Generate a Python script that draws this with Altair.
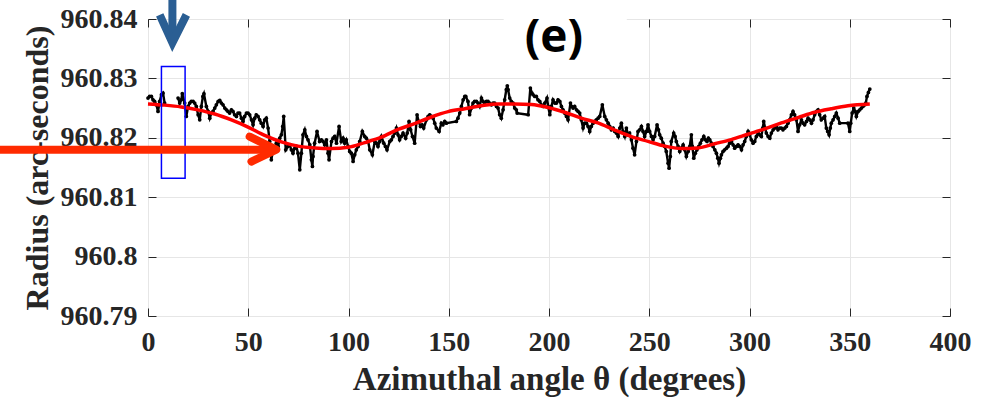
import altair as alt
import pandas as pd

# ---------------- data ----------------
theta_deg = [
    0.0, 0.8, 1.7, 2.5, 3.3, 4.2, 5.0, 5.8, 6.7, 7.5, 8.3,
    15.0, 15.8, 16.6, 17.1, 18.3, 19.1, 20.0, 20.8, 21.6, 22.5, 23.3, 24.1, 25.0, 25.8,
    26.6, 27.4, 27.9, 29.1, 30.0, 30.8, 31.6, 32.4, 33.3, 34.1, 35.0, 35.8, 36.6, 37.4,
    38.3, 39.1, 39.9, 40.7, 41.6, 42.4, 43.2, 44.1, 44.9, 45.7, 46.6, 47.4, 48.2, 49.1,
    49.9, 50.7, 51.6, 52.4, 53.2, 54.0, 54.9, 55.7, 56.5, 57.4, 58.2, 59.0, 59.9, 60.7,
    61.5, 62.4, 63.2, 64.0, 64.9, 65.7, 66.5, 67.2, 67.7, 68.7, 69.8, 70.7, 71.5, 72.3,
    73.2, 74.0, 74.8, 75.7, 76.5, 77.3, 78.2, 79.0, 79.8, 80.7, 81.5, 82.0, 82.3, 83.1,
    84.3, 85.6, 86.5, 87.3, 88.1, 89.0, 89.8, 90.3, 91.5, 92.3, 93.1, 94.0, 95.3, 96.4,
    97.3, 98.1, 98.9, 99.8, 100.6, 101.4, 102.3, 103.1, 103.9, 104.8, 105.6, 106.9, 108.1,
    108.9, 109.8, 110.6, 111.9, 113.1, 113.9, 114.7, 115.6, 116.4, 117.6, 118.4, 119.2,
    120.6, 121.4, 122.2, 123.1, 123.9, 124.7, 125.5, 126.3, 127.2, 128.5, 129.3, 130.2,
    131.0, 131.9, 133.0, 134.2, 135.0, 135.9, 136.7, 137.5, 138.9, 139.7, 140.5, 141.3,
    142.2, 143.0, 143.8, 145.2, 146.3, 147.1, 148.0, 148.8, 153.8, 154.6, 155.5, 156.3,
    157.2, 158.0, 158.5, 159.6, 160.4, 161.3, 162.1, 162.9, 163.8, 164.6, 165.4, 166.3,
    167.1, 167.9, 168.8, 169.6, 170.4, 171.3, 172.1, 172.9, 173.8, 174.6, 175.4, 176.2,
    177.1, 177.9, 178.7, 179.2, 179.6, 180.4, 181.2, 182.1, 182.9, 183.7, 184.1, 189.6,
    190.7, 191.5, 192.0, 192.9, 193.7, 194.5, 195.4, 196.2, 197.0, 197.9, 199.0, 199.6,
    200.4, 201.2, 202.0, 202.9, 203.7, 204.5, 205.4, 206.2, 207.0, 207.8, 208.7, 209.5,
    210.7, 211.2, 212.0, 212.8, 213.7, 214.5, 215.3, 216.1, 217.0, 217.8, 218.7, 219.5,
    220.3, 221.1, 222.0, 222.8, 223.6, 224.5, 225.3, 226.6, 227.8, 228.6, 229.5, 230.3,
    231.1, 232.0, 232.8, 233.6, 234.5, 235.3, 236.1, 236.9, 237.8, 238.6, 239.4, 240.2,
    241.1, 241.9, 242.7, 243.6, 244.4, 245.2, 246.1, 246.9, 247.7, 248.6, 249.4, 250.2,
    251.1, 251.9, 252.7, 253.9, 254.6, 255.2, 256.0, 256.9, 257.7, 258.5, 259.4, 259.9,
    260.5, 261.0, 262.2, 262.9, 263.5, 264.4, 265.2, 266.0, 266.9, 267.7, 268.5, 269.4,
    270.2, 271.0, 271.5, 272.2, 273.0, 273.8, 274.7, 275.5, 276.3, 277.2, 278.0, 278.8,
    279.5, 280.2, 281.0, 281.8, 282.7, 283.5, 284.2, 284.8, 285.5, 286.0, 286.8, 287.6,
    288.5, 289.3, 290.1, 291.0, 291.8, 292.6, 293.5, 294.3, 295.1, 296.0, 296.8, 297.6,
    298.4, 299.3, 300.1, 300.9, 301.8, 302.6, 303.4, 304.3, 305.1, 305.9, 306.6, 307.1,
    307.8, 308.4, 309.3, 310.1, 310.9, 311.8, 312.6, 313.4, 314.2, 315.1, 315.9, 316.7,
    317.6, 318.4, 319.2, 320.0, 320.9, 321.7, 322.5, 323.4, 324.2, 325.0, 325.9, 326.7,
    327.5, 328.4, 329.2, 330.0, 330.9, 331.7, 332.5, 333.4, 334.2, 335.0, 335.8, 336.7,
    337.5, 338.3, 339.0, 339.7, 340.3, 340.8, 341.7, 342.5, 343.3, 344.2, 345.0, 349.1,
    350.0, 350.5, 351.2, 352.0, 352.7, 353.3, 354.2, 355.0, 355.8, 356.6, 357.5, 358.0,
    358.6, 359.3, 360.0,
]

radius_arcsec = [
    960.82669, 960.82697, 960.82697, 960.82640, 960.82612, 960.82556, 960.82444, 960.82612, 960.82725, 960.82753, 960.82584,
    960.82669, 960.82584, 960.82640, 960.82742, 960.82584, 960.82360, 960.82528, 960.82584, 960.82612, 960.82612, 960.82584, 960.82528, 960.82388, 960.82303,
    960.82528, 960.82697, 960.82742, 960.82528, 960.82444, 960.82331, 960.82416, 960.82444, 960.82500, 960.82556, 960.82612, 960.82629, 960.82584, 960.82556,
    960.82500, 960.82472, 960.82444, 960.82416, 960.82472, 960.82444, 960.82388, 960.82360, 960.82416, 960.82416, 960.82331, 960.82275, 960.82360, 960.82416,
    960.82416, 960.82388, 960.82303, 960.82219, 960.82331, 960.82388, 960.82360, 960.82303, 960.82247, 960.82191, 960.82303, 960.82331, 960.82163, 960.81938,
    960.81629, 960.81798, 960.81798, 960.81910, 960.81854, 960.81994, 960.82051, 960.82191, 960.82360, 960.81798, 960.81854, 960.81882, 960.81798, 960.81742,
    960.81826, 960.81854, 960.81742, 960.81461, 960.81742, 960.82051, 960.82135, 960.82022, 960.81966, 960.81882, 960.81629, 960.81517, 960.81686, 960.81910,
    960.82107, 960.81938, 960.81966, 960.81938, 960.81882, 960.81966, 960.81742, 960.81629, 960.81938, 960.81994, 960.82022, 960.81910, 960.82191, 960.81938,
    960.81994, 960.81910, 960.81966, 960.81854, 960.81770, 960.81742, 960.81601, 960.81714, 960.81798, 960.81854, 960.81938, 960.82107, 960.82022,
    960.81994, 960.81938, 960.81798, 960.81714, 960.81938, 960.81910, 960.81854, 960.81938, 960.82022, 960.81910, 960.81854, 960.81798,
    960.81938, 960.81966, 960.82022, 960.82079, 960.82163, 960.82051, 960.81966, 960.82022, 960.82079, 960.81994, 960.82079, 960.82275,
    960.82135, 960.82022, 960.81910, 960.82388, 960.82275, 960.82191, 960.82219, 960.82163, 960.82303, 960.82360, 960.82388, 960.82360,
    960.82331, 960.82247, 960.82163, 960.82107, 960.82247, 960.82219, 960.82275, 960.82247, 960.82275, 960.82331, 960.82416, 960.82528,
    960.82640, 960.82697, 960.82697, 960.82612, 960.82388, 960.82500, 960.82584, 960.82612, 960.82612, 960.82584, 960.82528, 960.82669,
    960.82612, 960.82584, 960.82612, 960.82612, 960.82584, 960.82556, 960.82584, 960.82584, 960.82528, 960.82500, 960.82388, 960.82331,
    960.82472, 960.82640, 960.82809, 960.82876, 960.82809, 960.82669, 960.82612, 960.82584, 960.82500, 960.82472, 960.82416, 960.82388,
    960.82837, 960.82753, 960.82725, 960.82697, 960.82697, 960.82640, 960.82612, 960.82556, 960.82528, 960.82584, 960.82669, 960.82528,
    960.82388, 960.82528, 960.82640, 960.82584, 960.82584, 960.82640, 960.82612, 960.82528, 960.82472, 960.82416, 960.82360, 960.82303,
    960.82584, 960.82528, 960.82500, 960.82528, 960.82472, 960.82444, 960.82416, 960.82303, 960.82163, 960.82247, 960.82247, 960.82191,
    960.82107, 960.82191, 960.82247, 960.82275, 960.82303, 960.82331, 960.82360, 960.82556, 960.82360, 960.82303, 960.82247, 960.82191,
    960.82135, 960.82163, 960.82107, 960.82079, 960.82022, 960.82163, 960.82247, 960.82107, 960.82022, 960.82163, 960.82051, 960.82079,
    960.81966, 960.81826, 960.81714, 960.81938, 960.82107, 960.82135, 960.82191, 960.82107, 960.82022, 960.82107, 960.82219, 960.82107,
    960.82022, 960.81966, 960.82022, 960.82219, 960.82135, 960.82051, 960.81994, 960.81910, 960.81854, 960.81770, 960.81573, 960.81489,
    960.81686, 960.81938, 960.82079, 960.82022, 960.81938, 960.81854, 960.81770, 960.81826, 960.81882, 960.81798, 960.81686, 960.81770,
    960.81854, 960.82051, 960.81854, 960.81657, 960.81742, 960.81798, 960.81854, 960.81910, 960.81966, 960.82022, 960.81966, 960.81938,
    960.81994, 960.81966, 960.81910, 960.81854, 960.81798, 960.81742, 960.81657, 960.81573, 960.81657, 960.81714, 960.81770, 960.81798,
    960.81826, 960.81854, 960.81910, 960.81938, 960.81882, 960.81826, 960.81854, 960.81882, 960.81854, 960.81798, 960.81882, 960.81938,
    960.82022, 960.82107, 960.82051, 960.81966, 960.81910, 960.81938, 960.82022, 960.82079, 960.82051, 960.82022, 960.82163, 960.82275,
    960.82163, 960.82079, 960.82022, 960.81994, 960.82079, 960.82135, 960.82163, 960.82191, 960.82135, 960.82163, 960.82163, 960.82135,
    960.82163, 960.82191, 960.82247, 960.82303, 960.82388, 960.82444, 960.82388, 960.82303, 960.82107, 960.82219, 960.82303, 960.82247,
    960.82219, 960.82275, 960.82331, 960.82303, 960.82247, 960.82303, 960.82388, 960.82444, 960.82472, 960.82388, 960.82303, 960.82331,
    960.82360, 960.82163, 960.82107, 960.82051, 960.82163, 960.82247, 960.82303, 960.82360, 960.82416, 960.82331, 960.82247, 960.82247,
    960.82107, 960.82247, 960.82416, 960.82500, 960.82444, 960.82360, 960.82444, 960.82472, 960.82500, 960.82528, 960.82556, 960.82584,
    960.82697, 960.82764, 960.82820,
]

fit_theta = [0.0, 8.3, 16.6, 24.9, 33.3, 41.6, 49.9, 58.2, 66.5, 74.8, 83.2, 91.5, 99.8,
             108.1, 116.4, 124.7, 133.0, 141.3, 149.7, 158.0, 166.3, 174.6, 182.9, 191.2,
             199.5, 207.8, 216.1, 224.4, 232.8, 241.1, 249.4, 257.7, 266.0, 274.3, 282.6,
             290.9, 299.2, 307.6, 315.9, 324.2, 332.5, 340.8, 349.1, 360.0]
fit_radius = [960.8257, 960.8255, 960.8252, 960.8247, 960.8240, 960.8230, 960.8218, 960.8204,
              960.8193, 960.8186, 960.8183, 960.8182, 960.8184, 960.8192, 960.8201, 960.8214,
              960.8224, 960.8235, 960.8244, 960.8249, 960.8254, 960.8257, 960.8257, 960.8256,
              960.8251, 960.8243, 960.8233, 960.8225, 960.8213, 960.8202, 960.8194, 960.8186,
              960.8182, 960.8183, 960.8190, 960.8197, 960.8206, 960.8215, 960.8225, 960.8234,
              960.8243, 960.8249, 960.8254, 960.8257]

x_ticks = [0, 50, 100, 150, 200, 250, 300, 350, 400]
y_ticks = [960.79, 960.80, 960.81, 960.82, 960.83, 960.84]

# annotations (data units)
box_x = [6.7, 18.5]
box_y = [960.8132, 960.8320]
blue_shaft_x = 12.17
blue_shaft_y = [960.8433, 960.8368]
blue_head_x = [5.84, 12.17, 19.15]
blue_head_y = [960.8407, 960.8360, 960.8407]
red_shaft_x = [-74.0, 62.0]
red_shaft_y = 960.8180
red_head_x = [50.7, 64.0, 51.6]
red_head_y = [960.8202, 960.8180, 960.8160]
label_box_x = [177.4, 238.8]
label_box_y = [960.8318, 960.8445]
panel_label = "(e)"
panel_label_pos = (202.4, 960.8345)

# ---------------- build frames ----------------
seg = []
s = 0
for i, t in enumerate(theta_deg):
    if i > 0 and t - theta_deg[i - 1] > 6:
        s += 1
    seg.append(s)
pts = pd.DataFrame({"theta": theta_deg, "r": radius_arcsec, "seg": seg})
fit = pd.DataFrame({"theta": fit_theta, "r": fit_radius})

xs = alt.Scale(domain=[0, 400], nice=False, zero=False)
ys = alt.Scale(domain=[960.79, 960.84], nice=False, zero=False)

INK = "#262626"
SERIF = "Liberation Serif"

x_main = alt.Axis(values=x_ticks, grid=True, gridColor="#e6e6e6", ticks=False, domain=False,
                  labelFont=SERIF, labelFontWeight="bold", labelFontSize=28, labelColor=INK,
                  labelPadding=12, labelFlush=False, labelOverlap=False,
                  title="Azimuthal angle θ (degrees)", titleFont=SERIF, titleFontWeight="bold",
                  titleFontSize=33, titleColor=INK, titlePadding=7)
y_main = alt.Axis(values=y_ticks, grid=True, gridColor="#e6e6e6", ticks=False, domain=False,
                  format=".2~f", labelFont=SERIF, labelFontWeight="bold", labelFontSize=28,
                  labelColor=INK, labelPadding=11, labelOverlap=False,
                  title="Radius (arc-seconds)", titleFont=SERIF, titleFontWeight="bold",
                  titleFontSize=32, titleColor=INK, titlePadding=6)


def tick_axis(orient, vals):
    return alt.Axis(orient=orient, values=vals, grid=False, labels=False, domain=False,
                    ticks=True, tickSize=8, tickColor=INK, tickWidth=1, offset=-8, title="")


points = alt.Chart(pts).mark_circle(size=14, color="black", opacity=1).encode(
    x=alt.X("theta:Q", scale=xs, axis=x_main),
    y=alt.Y("r:Q", scale=ys, axis=y_main),
)
connect = alt.Chart(pts).mark_line(color="black", strokeWidth=2.4).encode(
    x=alt.X("theta:Q", scale=xs, axis=tick_axis("bottom", x_ticks)),
    y=alt.Y("r:Q", scale=ys, axis=tick_axis("left", y_ticks)),
    detail="seg:N",
)
fit_line = alt.Chart(fit).mark_line(color="#ff0000", strokeWidth=3.5, interpolate="monotone").encode(
    x=alt.X("theta:Q", scale=xs, axis=tick_axis("top", x_ticks)),
    y=alt.Y("r:Q", scale=ys, axis=tick_axis("right", y_ticks)),
)

box = alt.Chart(pd.DataFrame({"x": [box_x[0]], "x2": [box_x[1]], "y": [box_y[0]], "y2": [box_y[1]]})).mark_rect(
    fillOpacity=0, stroke="#0000ff", strokeWidth=1.5
).encode(x=alt.X("x:Q", scale=xs, axis=None), x2="x2:Q",
         y=alt.Y("y:Q", scale=ys, axis=None), y2="y2:Q")

blue_shaft = alt.Chart(pd.DataFrame({"x": [blue_shaft_x], "y": [blue_shaft_y[0]], "y2": [blue_shaft_y[1]]})).mark_rule(
    color="#2a5e93", strokeWidth=8
).encode(x=alt.X("x:Q", scale=xs, axis=None), y=alt.Y("y:Q", scale=ys, axis=None), y2="y2:Q")
blue_head = alt.Chart(pd.DataFrame({"x": blue_head_x, "y": blue_head_y, "k": [0, 1, 2]})).mark_line(
    color="#2a5e93", strokeWidth=8, strokeJoin="miter", strokeCap="butt"
).encode(x=alt.X("x:Q", scale=xs, axis=None), y=alt.Y("y:Q", scale=ys, axis=None), order="k:Q")

red_shaft = alt.Chart(pd.DataFrame({"x": [red_shaft_x[0]], "x2": [red_shaft_x[1]], "y": [red_shaft_y]})).mark_rule(
    color="#ff2a00", strokeWidth=8
).encode(x=alt.X("x:Q", scale=xs, axis=None), x2="x2:Q", y=alt.Y("y:Q", scale=ys, axis=None))
red_head = alt.Chart(pd.DataFrame({"x": red_head_x, "y": red_head_y, "k": [0, 1, 2]})).mark_line(
    color="#ff2a00", strokeWidth=8, strokeJoin="round", strokeCap="round"
).encode(x=alt.X("x:Q", scale=xs, axis=None), y=alt.Y("y:Q", scale=ys, axis=None), order="k:Q")

label_bg = alt.Chart(pd.DataFrame({"x": [label_box_x[0]], "x2": [label_box_x[1]],
                                   "y": [label_box_y[0]], "y2": [label_box_y[1]]})).mark_rect(
    color="white"
).encode(x=alt.X("x:Q", scale=xs, axis=None), x2="x2:Q",
         y=alt.Y("y:Q", scale=ys, axis=None), y2="y2:Q")
label_txt = alt.Chart(pd.DataFrame({"x": [panel_label_pos[0]], "y": [panel_label_pos[1]], "t": [panel_label]})).mark_text(
    font="Open Sans", fontWeight="bold", fontSize=46, color="black", align="center", baseline="alphabetic"
).encode(x=alt.X("x:Q", scale=xs, axis=None), y=alt.Y("y:Q", scale=ys, axis=None), text="t:N")

chart = alt.layer(
    points, connect, fit_line, box, red_shaft, red_head, blue_shaft, blue_head, label_bg, label_txt
).resolve_axis(x="independent", y="independent").properties(
    width=802, height=297,
    autosize=alt.AutoSizeParams(type="none"),
    padding={"left": 148, "top": 19, "right": 48, "bottom": 84},
    background="white",
).configure_view(stroke=INK, strokeWidth=1)

chart.save("out.html", embed_options={"renderer": "svg", "actions": False})
